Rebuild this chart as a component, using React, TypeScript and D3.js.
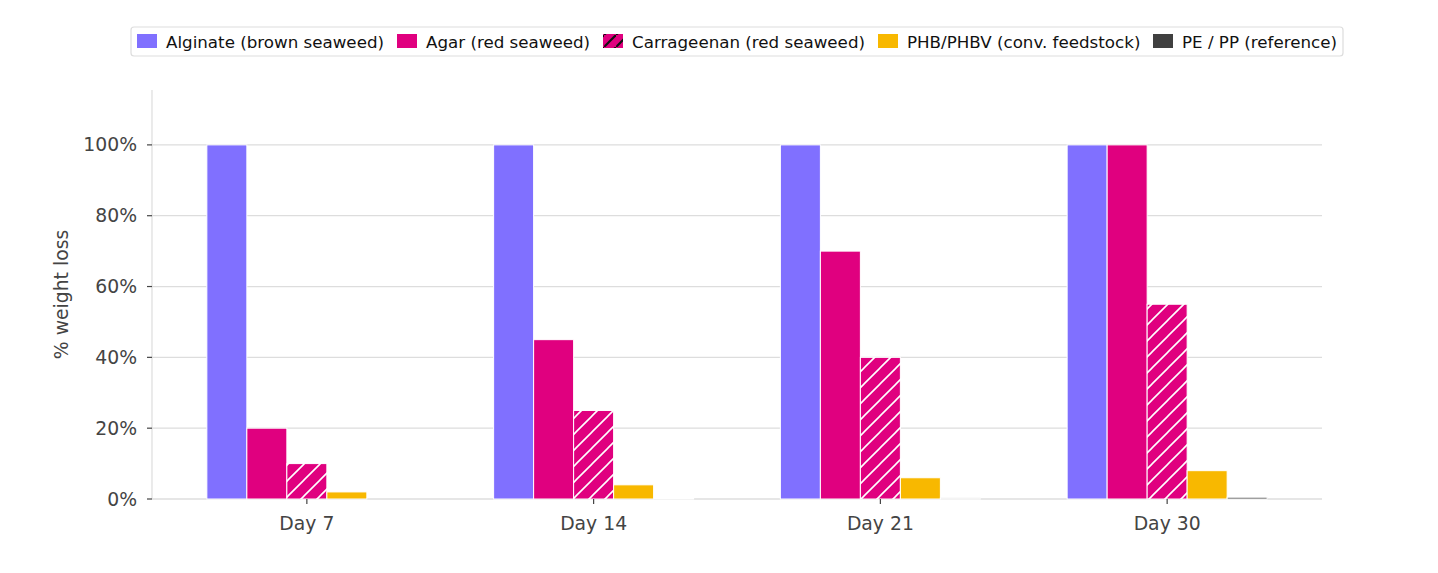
import React from "react";
import * as d3 from "d3";

const days = ["Day 7", "Day 14", "Day 21", "Day 30"];
const seriesNames = [
  "Alginate (brown seaweed)",
  "Agar (red seaweed)",
  "Carrageenan (red seaweed)",
  "PHB/PHBV (conv. feedstock)",
  "PE / PP (reference)",
];
const alginate = [100, 100, 100, 100];
const agar = [20, 45, 70, 100];
const carrageenan = [10, 25, 40, 55];
const phb = [2, 4, 6, 8];
const pepp = [0, 0.2, 0.3, 0.5];
const yTicks = [0, 20, 40, 60, 80, 100];

const colors = ["#8070FF", "#E0007F", "#E0007F", "#F8B800", "#404040"];
const hatched = [false, false, true, false, false];

const W = 1438;
const H = 573;
const left = 152;
const right = 1322;
const top = 90;
const bottom = 499;

export default function App() {
  const values = [alginate, agar, carrageenan, phb, pepp];
  const x = d3.scaleBand<string>().domain(days).range([left, right]).paddingInner(0).paddingOuter(0.04);
  const y = d3.scaleLinear().domain([0, 115.5]).range([bottom, top]);
  const groupW = 200;
  const xs = d3
    .scaleBand<number>()
    .domain(d3.range(seriesNames.length))
    .range([0, groupW])
    .padding(0);
  const textColor = "#444444";
  const font = "DejaVu Sans, sans-serif";

  const legendX = [137, 397, 603, 878, 1153];

  return (
    <svg
      width={W}
      height={H}
      style={{ position: "absolute", left: 0, top: 0, background: "#fff" }}
      fontFamily={font}
    >
      <defs>
        <pattern id="hatch" patternUnits="userSpaceOnUse" width={16} height={16}>
          <rect width={16} height={16} fill="#E0007F" />
          <path d="M0,16 L16,0 M-4,4 L4,-4 M12,20 L20,12" stroke="#ffffff" strokeWidth={1.6} />
        </pattern>
        <pattern id="hatchLegend" patternUnits="userSpaceOnUse" x={604} y={35} width={12} height={12}>
          <rect width={12} height={12} fill="#E0007F" />
          <path d="M-2,14 L14,-2" stroke="#111" strokeWidth={2.2} />
        </pattern>
      </defs>

      {yTicks.map((t) => (
        <line key={"g" + t} x1={left} x2={right} y1={y(t)} y2={y(t)} stroke="#dddddd" strokeWidth={1.2} />
      ))}
      <line x1={left} x2={left} y1={top} y2={bottom} stroke="#dddddd" strokeWidth={1.2} />
      <line x1={left} x2={right} y1={bottom} y2={bottom} stroke="#dddddd" strokeWidth={1.2} />

      {days.map((d, i) => {
        const cx = (x(d) as number) + x.bandwidth() / 2;
        const gx = cx - groupW / 2;
        return (
          <g key={d}>
            {values.map((vals, s) => {
              const v = vals[i];
              const bx = gx + (xs(s) as number);
              return (
                <rect
                  key={s}
                  x={bx}
                  y={y(v)}
                  width={xs.bandwidth()}
                  height={bottom - y(v)}
                  fill={hatched[s] ? "url(#hatch)" : colors[s]}
                  stroke="#ffffff"
                  strokeWidth={1}
                />
              );
            })}
          </g>
        );
      })}

      {yTicks.map((t) => (
        <g key={"t" + t}>
          <line x1={left - 5} x2={left} y1={y(t)} y2={y(t)} stroke={textColor} strokeWidth={1.2} />
          <text
            x={left - 15}
            y={y(t)}
            textAnchor="end"
            dominantBaseline="central"
            fontSize={18.8}
            fill={textColor}
          >
            {t + "%"}
          </text>
        </g>
      ))}

      {days.map((d) => {
        const cx = (x(d) as number) + x.bandwidth() / 2;
        return (
          <g key={"x" + d}>
            <line x1={cx} x2={cx} y1={bottom} y2={bottom + 5} stroke={textColor} strokeWidth={1.2} />
            <text x={cx} y={bottom + 31} textAnchor="middle" fontSize={18.8} fill={textColor}>
              {d}
            </text>
          </g>
        );
      })}

      <text
        transform={`translate(68,${(top + bottom) / 2}) rotate(-90)`}
        textAnchor="middle"
        fontSize={18.8}
        fill={textColor}
      >
        % weight loss
      </text>

      <rect x={131} y={27} width={1212} height={29} rx={3} fill="#ffffff" stroke="#dddddd" strokeWidth={1.2} />
      {seriesNames.map((n, s) => (
        <g key={n}>
          <rect
            x={legendX[s]}
            y={34}
            width={20}
            height={14}
            fill={hatched[s] ? "url(#hatchLegend)" : colors[s]}
          />
          <text x={legendX[s] + 29} y={41.5} dominantBaseline="central" fontSize={16.7} fill="#111">
            {n}
          </text>
        </g>
      ))}
    </svg>
  );
}
